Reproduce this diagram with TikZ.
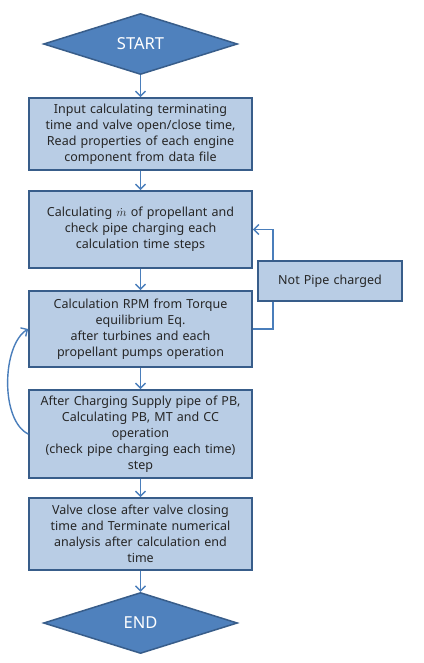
\documentclass[tikz,border=0pt]{standalone}
\usepackage{fontspec}
\setmainfont{Noto Sans}
\usepackage{tikz}
\usetikzlibrary{shapes.geometric}
\usetikzlibrary{arrows.meta}
\definecolor{diafill}{HTML}{4F81BD}
\definecolor{edgeblue}{HTML}{385D8A}
\definecolor{boxfill}{HTML}{B9CDE5}
\definecolor{arrowblue}{HTML}{4A7EBB}
\tikzset{terminal/.style={diamond, draw=edgeblue, fill=diafill, line width=1.5pt,
    minimum width=194pt, minimum height=61pt, inner sep=0pt, text=white,
    font=\fontsize{16.5}{19}\selectfont}}
\tikzset{stepbox/.style={rectangle, draw=edgeblue, fill=boxfill, line width=1.6pt,
    minimum width=223pt, text width=221pt, align=center, inner sep=0pt,
    text=black!85, font=\fontsize{12.5}{16}\selectfont}}
\tikzset{flow/.style={draw=arrowblue, line width=1.4pt,
    -{Straight Barb[length=5pt,width=10pt,line width=1.4pt]}}}

\begin{document}
\begin{tikzpicture}[x=1pt,y=-1pt]
  \useasboundingbox (0,0) rectangle (423,663);
  \node[terminal] (start) at (140.5,44) {START};
  \foreach \lab/\y/\h/\txt in {
    input/134/72/{Input calculating terminating\\time and valve open/close time,\\Read properties of each engine\\component from data file},
    mdot/229.5/77/{Calculating $\dot{m}$ of propellant and\\check pipe charging each\\calculation time steps},
    rpm/329/76/{Calculation RPM from Torque\\equilibrium Eq.\\after turbines and each\\propellant pumps operation},
    pb/434/88/{After Charging Supply pipe of PB,\\Calculating PB, MT and CC\\operation\\(check pipe charging each time)\\step},
    close/534/72/{Valve close after valve closing\\time and Terminate numerical\\analysis after calculation end\\time}%
  } {
    \node[stepbox, minimum height=\h pt] (\lab) at (140.5,\y) {\txt};
  }
  \node[terminal] (stop) at (140.5,623) {END};

  \foreach \u/\v in {
    start/input,
    input/mdot,
    mdot/rpm,
    rpm/pb,
    pb/close,
    close/stop%
  }{
    \draw[flow] (\u) -- (\v);
  }

  % loop back when pipe is not charged
  \coordinate (loopx) at (273,0);
  \draw[flow] (rpm.east) -| (loopx |- mdot.east) -- (mdot.east);
  \node[stepbox, minimum width=144pt, text width=140pt, minimum height=40pt]
    (notcharged) at (330,281) {Not Pipe charged};

  \draw[flow] (pb.west) .. controls (0,420) and (2,345) .. (rpm.west);
\end{tikzpicture}
\end{document}
